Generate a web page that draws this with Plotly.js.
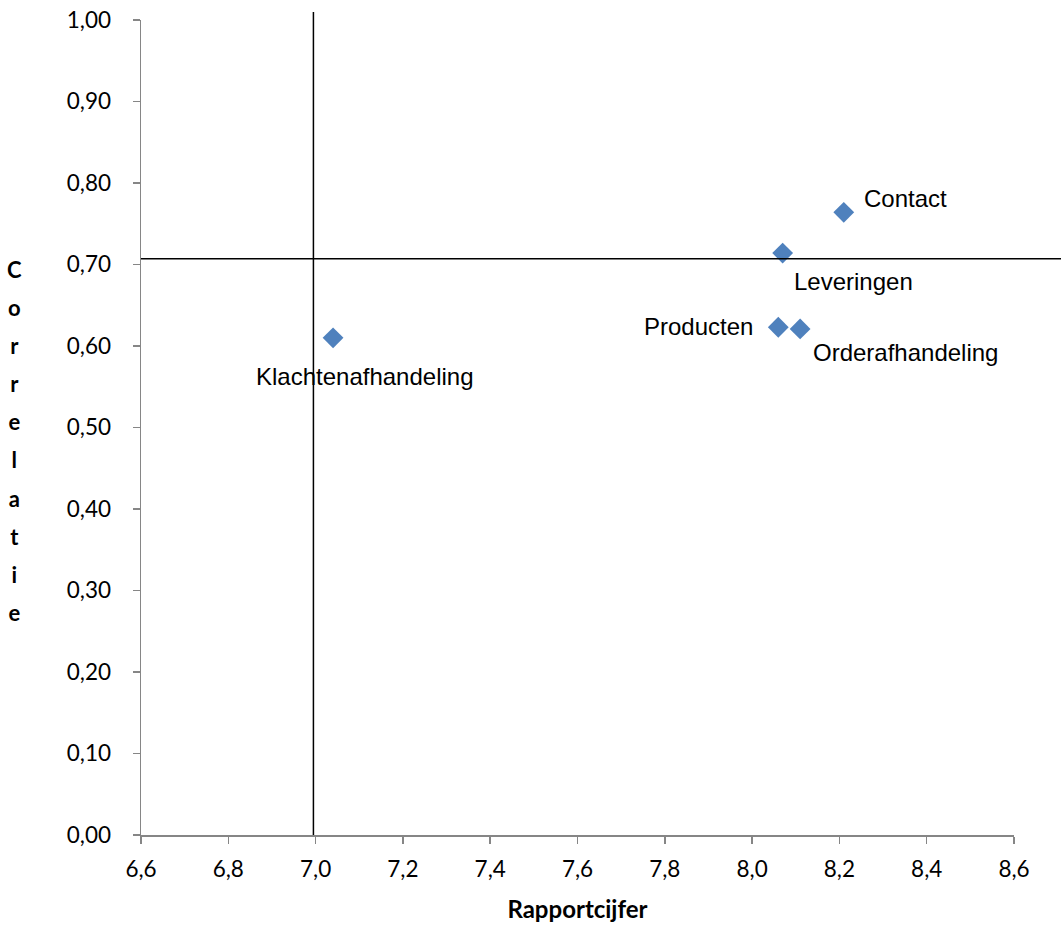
<!DOCTYPE html>
<html>
<head>
<meta charset="utf-8">
<script src="https://cdn.plot.ly/plotly-3.0.1.min.js"></script>
<style>html,body{margin:0;padding:0;background:#fff;}#chart{width:1061px;height:925px;}</style>
</head>
<body>
<div id="chart"></div>
<script>
// Data
const categories = ["Contact", "Leveringen", "Producten", "Orderafhandeling", "Klachtenafhandeling"];
const rapportcijfer = [8.21, 8.07, 8.06, 8.11, 7.04];
const correlatie = [0.764, 0.714, 0.623, 0.621, 0.610];
const refRapportcijfer = 6.995;   // vertical reference line
const refCorrelatie = 0.707;      // horizontal reference line
const xTickValues = [6.6, 6.8, 7.0, 7.2, 7.4, 7.6, 7.8, 8.0, 8.2, 8.4, 8.6];
const yTickValues = [0, 0.1, 0.2, 0.3, 0.4, 0.5, 0.6, 0.7, 0.8, 0.9, 1.0];
const xTitle = "Rapportcijfer";
const yTitle = "Correlatie";

// Label placement (styling only)
const labelStyle = {
  "Contact": {xanchor: "left", xshift: 18, yshift: 14},
  "Leveringen": {xanchor: "left", xshift: 9, yshift: -28},
  "Producten": {xanchor: "right", xshift: -23, yshift: 1},
  "Orderafhandeling": {xanchor: "left", xshift: 11, yshift: -24},
  "Klachtenafhandeling": {xanchor: "left", xshift: -79, yshift: -39}
};

const tickFont = {family: "Lato, 'Open Sans', sans-serif", size: 22.5, color: "#000"};
const labelFont = {family: "'Liberation Sans', Arial, sans-serif", size: 24, color: "#000"};

const trace = {
  x: rapportcijfer,
  y: correlatie,
  text: categories,
  type: "scatter",
  mode: "markers",
  marker: {symbol: "diamond", size: 16, color: "#4F81BD", line: {width: 0}},
  hoverinfo: "text+x+y",
  cliponaxis: false
};

const annotations = categories.map((c, i) => ({
  x: rapportcijfer[i], y: correlatie[i], xref: "x", yref: "y",
  text: c, showarrow: false, font: labelFont,
  xanchor: labelStyle[c].xanchor, yanchor: "middle",
  xshift: labelStyle[c].xshift, yshift: labelStyle[c].yshift
}));

// stacked vertical y title
annotations.push({
  xref: "paper", yref: "paper", x: -0.145, y: 0.483,
  xanchor: "center", yanchor: "middle", showarrow: false,
  text: yTitle.split("").map(ch => '<span style="font-size:22px">' + ch + '</span>').join("<br>"),
  font: {family: "Lato, 'Open Sans', sans-serif", size: 29.3, color: "#000", weight: "bold"},
  align: "center"
});

const layout = {
  width: 1061, height: 925,
  margin: {l: 141, r: 47, t: 20, b: 90, pad: 0},
  paper_bgcolor: "#fff", plot_bgcolor: "#fff",
  separators: ",.",
  showlegend: false,
  xaxis: {
    range: [6.6, 8.6], tickvals: xTickValues, tickformat: ".1f",
    showgrid: false, zeroline: false,
    showline: true, linecolor: "#868686", linewidth: 1.5,
    ticks: "outside", ticklen: 7, tickwidth: 1.5, tickcolor: "#868686",
    tickfont: tickFont, ticklabelstandoff: 6,
    title: {text: "<b>" + xTitle + "</b>", font: {family: "Lato, 'Open Sans', sans-serif", size: 24, color: "#000"}, standoff: 20}
  },
  yaxis: {
    range: [0, 1], tickvals: yTickValues, tickformat: ".2f",
    showgrid: false, zeroline: false,
    showline: true, linecolor: "#868686", linewidth: 1.5,
    ticks: "outside", ticklen: 7, tickwidth: 1.5, tickcolor: "#868686",
    tickfont: tickFont, ticklabelstandoff: 17
  },
  shapes: [
    {type: "line", xref: "x", yref: "paper", x0: refRapportcijfer, x1: refRapportcijfer, y0: 0, y1: 1.0098,
     line: {color: "#000", width: 1.5}},
    {type: "line", xref: "paper", yref: "y", x0: 0, x1: 1.054, y0: refCorrelatie, y1: refCorrelatie,
     line: {color: "#000", width: 1.5}}
  ],
  annotations: annotations
};

Plotly.newPlot("chart", [trace], layout, {displayModeBar: false, staticPlot: true});
</script>
</body>
</html>
